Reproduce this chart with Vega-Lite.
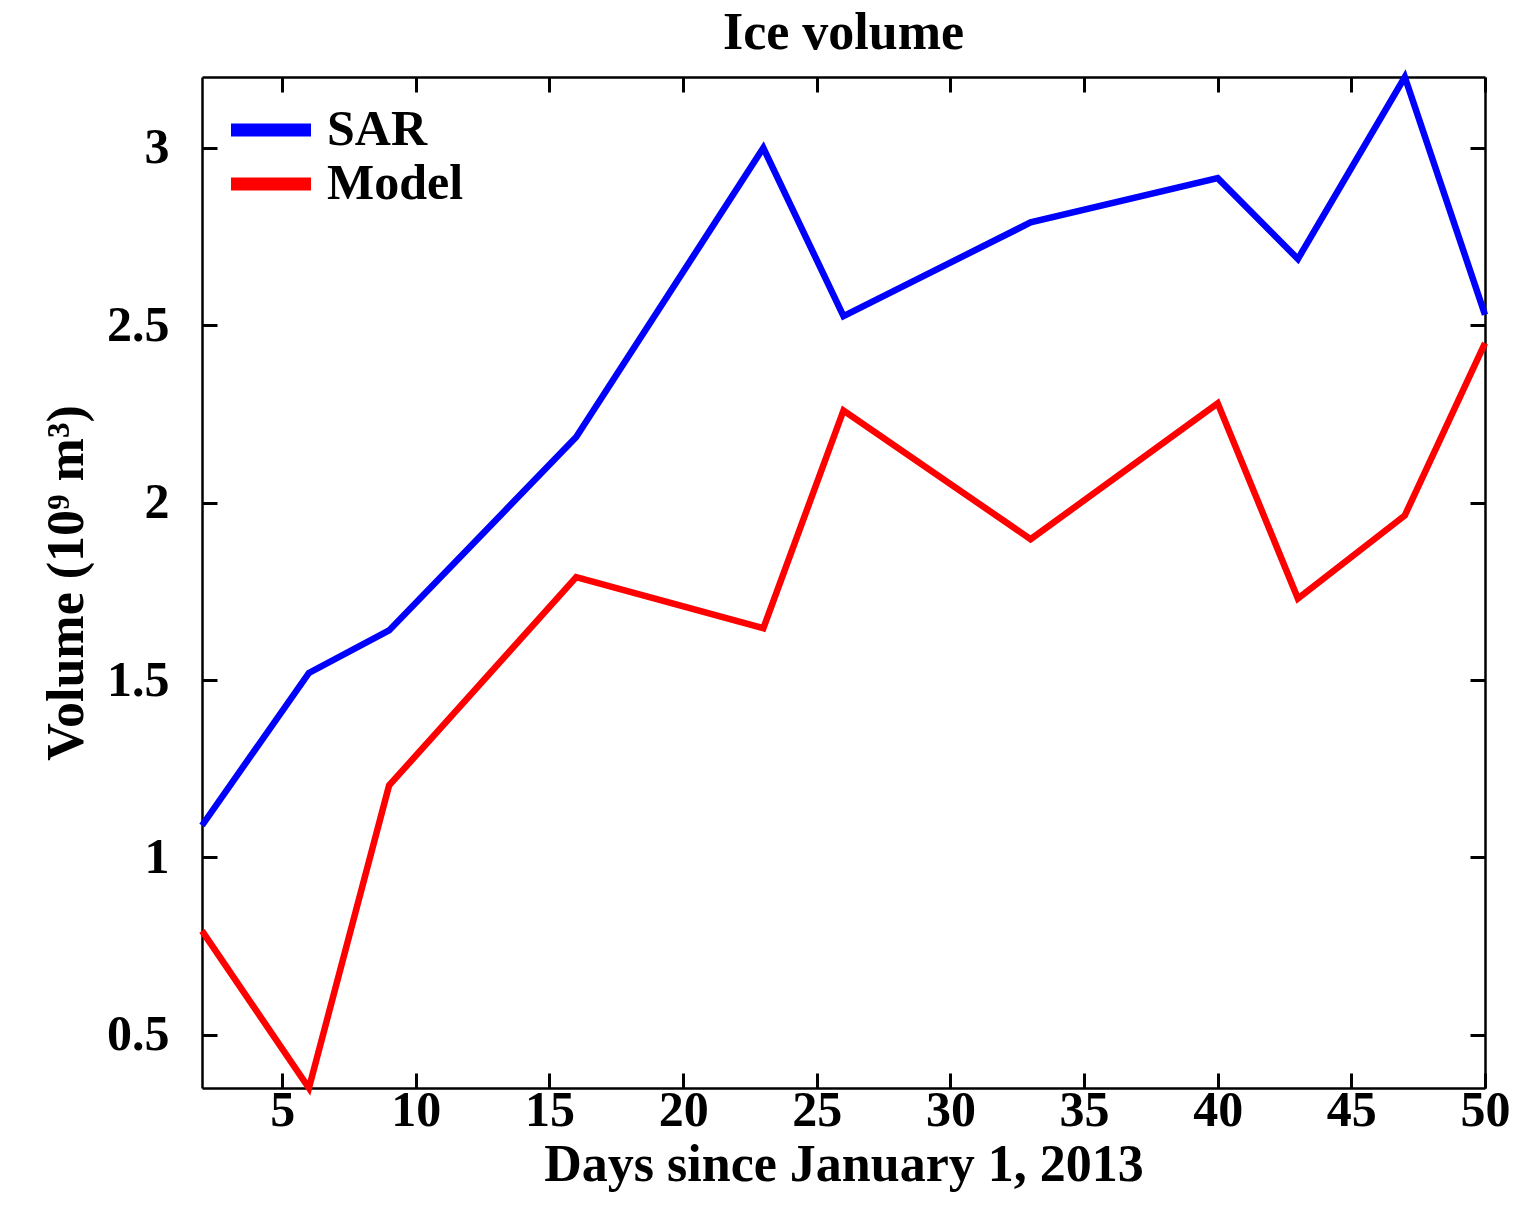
{
  "$schema": "https://vega.github.io/schema/vega-lite/v6.json",
  "width": 1283,
  "height": 1011,
  "autosize": {"type": "none"},
  "padding": {"left": 202, "top": 77, "right": 36, "bottom": 122},
  "background": "white",
  "title": {
    "text": "Ice volume",
    "font": "Liberation Serif",
    "fontSize": 52,
    "fontWeight": "bold",
    "color": "black",
    "anchor": "middle",
    "offset": 4
  },
  "data": {
    "values": [
      {"day": 2, "volume": 1.09, "series": "SAR"},
      {"day": 6, "volume": 1.52, "series": "SAR"},
      {"day": 9, "volume": 1.64, "series": "SAR"},
      {"day": 16, "volume": 2.185, "series": "SAR"},
      {"day": 23, "volume": 3.0, "series": "SAR"},
      {"day": 26, "volume": 2.526, "series": "SAR"},
      {"day": 33, "volume": 2.79, "series": "SAR"},
      {"day": 40, "volume": 2.915, "series": "SAR"},
      {"day": 43, "volume": 2.687, "series": "SAR"},
      {"day": 47, "volume": 3.2, "series": "SAR"},
      {"day": 50, "volume": 2.53, "series": "SAR"},
      {"day": 2, "volume": 0.793, "series": "Model"},
      {"day": 6, "volume": 0.35, "series": "Model"},
      {"day": 9, "volume": 1.203, "series": "Model"},
      {"day": 16, "volume": 1.79, "series": "Model"},
      {"day": 23, "volume": 1.646, "series": "Model"},
      {"day": 26, "volume": 2.26, "series": "Model"},
      {"day": 33, "volume": 1.897, "series": "Model"},
      {"day": 40, "volume": 2.28, "series": "Model"},
      {"day": 43, "volume": 1.73, "series": "Model"},
      {"day": 47, "volume": 1.964, "series": "Model"},
      {"day": 50, "volume": 2.45, "series": "Model"}
    ]
  },
  "layer": [
    {
      "mark": {"type": "line", "strokeWidth": 6.5},
      "encoding": {
        "x": {
          "field": "day",
          "type": "quantitative",
          "scale": {"domain": [2, 50], "nice": false, "zero": false},
          "axis": {
            "orient": "bottom",
            "values": [5, 10, 15, 20, 25, 30, 35, 40, 45, 50],
            "tickSize": -15,
            "labelPadding": 12,
            "title": "Days since January 1, 2013",
            "titlePadding": 4
          }
        },
        "y": {
          "field": "volume",
          "type": "quantitative",
          "scale": {"domain": [0.35, 3.2], "nice": false, "zero": false},
          "axis": {
            "orient": "left",
            "values": [0.5, 1, 1.5, 2, 2.5, 3],
            "format": "~g",
            "tickSize": -15,
            "labelPadding": 48,
            "title": "Volume (10⁹ m³)",
            "titlePadding": 13
          }
        },
        "color": {
          "field": "series",
          "type": "nominal",
          "scale": {"domain": ["SAR", "Model"], "range": ["#0000ff", "#ff0000"]},
          "legend": {
            "orient": "none",
            "legendX": 44,
            "legendY": 28,
            "title": null,
            "padding": 0,
            "symbolType": "M-4,0H4",
            "symbolSize": 400,
            "symbolStrokeWidth": 13,
            "symbolFillColor": "transparent",
            "labelFont": "Liberation Serif",
            "labelFontSize": 50,
            "labelFontWeight": "bold",
            "labelColor": "black",
            "labelOffset": 31,
            "rowPadding": 2
          }
        }
      }
    },
    {
      "mark": {"type": "line", "opacity": 0},
      "encoding": {
        "x": {
          "field": "day",
          "type": "quantitative",
          "axis": {
            "orient": "top",
            "values": [5, 10, 15, 20, 25, 30, 35, 40, 45, 50],
            "tickSize": -15,
            "labels": false,
            "title": null
          }
        },
        "y": {
          "field": "volume",
          "type": "quantitative",
          "axis": {
            "orient": "right",
            "values": [0.5, 1, 1.5, 2, 2.5, 3],
            "tickSize": -15,
            "labels": false,
            "title": null
          }
        },
        "detail": {"field": "series"}
      }
    }
  ],
  "resolve": {"axis": {"x": "independent", "y": "independent"}},
  "config": {
    "view": {"stroke": null},
    "axis": {
      "grid": false,
      "domainColor": "black",
      "domainWidth": 2.5,
      "tickColor": "black",
      "tickWidth": 3,
      "labelFont": "Liberation Serif",
      "labelFontSize": 50,
      "labelFontWeight": "bold",
      "labelColor": "black",
      "labelFlush": false,
      "labelOverlap": false,
      "titleFont": "Liberation Serif",
      "titleFontSize": 52,
      "titleFontWeight": "bold",
      "titleColor": "black"
    }
  }
}
